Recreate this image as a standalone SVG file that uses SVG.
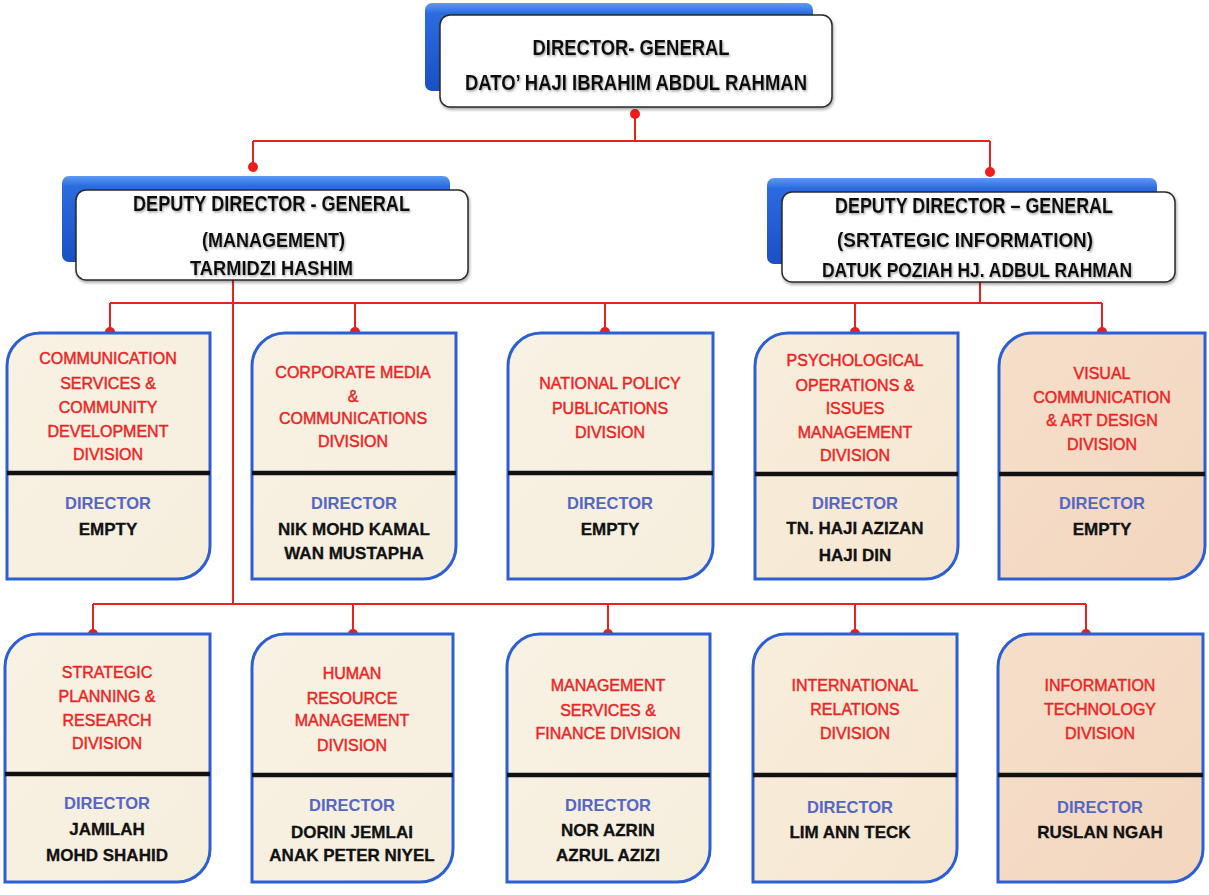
<svg xmlns="http://www.w3.org/2000/svg" width="1209" height="895" viewBox="0 0 1209 895">
<defs>
<linearGradient id="plate" x1="0" y1="0" x2="0" y2="1">
<stop offset="0" stop-color="#5d9af2"/>
<stop offset="0.12" stop-color="#2b6be0"/>
<stop offset="1" stop-color="#1a50c4"/>
</linearGradient>
<linearGradient id="cream" x1="0" y1="0" x2="1" y2="1">
<stop offset="0" stop-color="#f8f2e4"/>
<stop offset="1" stop-color="#f6eedd"/>
</linearGradient>
<linearGradient id="warm" x1="0" y1="0" x2="1" y2="1">
<stop offset="0" stop-color="#f8eedc"/>
<stop offset="1" stop-color="#f6e6d0"/>
</linearGradient>
<linearGradient id="peach" x1="0" y1="0" x2="1" y2="1">
<stop offset="0" stop-color="#f5dfca"/>
<stop offset="1" stop-color="#f3d6bf"/>
</linearGradient>
<filter id="sh" x="-5%" y="-20%" width="110%" height="160%">
<feDropShadow dx="1" dy="1.5" stdDeviation="0.8" flood-color="#555" flood-opacity="0.55"/>
</filter>
<filter id="bsh" x="-5%" y="-10%" width="110%" height="130%">
<feDropShadow dx="1" dy="2" stdDeviation="1.5" flood-color="#000" flood-opacity="0.35"/>
</filter>
</defs>
<style>
.plate{fill:url(#plate);}
.card{fill:#ffffff;stroke:#2a2a2a;stroke-width:1.5;}
.head{font-family:"Liberation Sans",Arial,sans-serif;font-weight:bold;fill:#111;text-anchor:middle;}
.box{stroke:#2c5fd2;stroke-width:3;}
.div{stroke:#111;stroke-width:4.5;}
.red{font-family:"Liberation Sans",Arial,sans-serif;fill:#ec2424;stroke:#ec2424;stroke-width:0.45;text-anchor:middle;font-size:16px;}
.dir{font-family:"Liberation Sans",Arial,sans-serif;font-weight:bold;fill:#5566c4;text-anchor:middle;font-size:16.5px;}
.nm{font-family:"Liberation Sans",Arial,sans-serif;font-weight:bold;fill:#111;stroke:#111;stroke-width:0.3;text-anchor:middle;font-size:17px;}
.con{stroke:#e8221e;stroke-width:2;fill:none;}
.dot{fill:#ee1c1c;}
</style>
<rect width="1209" height="895" fill="#ffffff"/>

<g id="connectors">
<path class="con" d="M635 114 V141 M253 141 H990 M253 141 V167 M990 141 V172"/>
<path class="con" d="M233 280 V604 M980 282 V303 M110 303 H1102 M110 303 V332 M355 303 V332 M605 303 V332 M855 303 V332 M1102 303 V332"/>
<path class="con" d="M93 604 H1086 M93 604 V634 M353 604 V634 M608 604 V634 M855 604 V634 M1086 604 V634"/>
<circle class="dot" cx="635" cy="114" r="5"/>
<circle class="dot" cx="253" cy="167" r="5"/>
<circle class="dot" cx="990" cy="172" r="5"/>
<circle class="dot" cx="110" cy="332" r="5"/>
<circle class="dot" cx="355" cy="332" r="5"/>
<circle class="dot" cx="605" cy="332" r="5"/>
<circle class="dot" cx="855" cy="332" r="5"/>
<circle class="dot" cx="1102" cy="332" r="5"/>
<circle class="dot" cx="93" cy="634" r="5"/>
<circle class="dot" cx="353" cy="634" r="5"/>
<circle class="dot" cx="608" cy="634" r="5"/>
<circle class="dot" cx="855" cy="634" r="5"/>
<circle class="dot" cx="1086" cy="634" r="5"/>
</g>

<g id="director-general">
<rect class="plate" x="425" y="3" width="388" height="88" rx="7"/>
<rect class="card" x="440" y="15" width="392" height="92" rx="10" filter="url(#bsh)"/>
<text class="head" x="631" y="55" font-size="21.5" textLength="197" lengthAdjust="spacingAndGlyphs" filter="url(#sh)">DIRECTOR- GENERAL</text>
<text class="head" x="636" y="90" font-size="21.5" textLength="342" lengthAdjust="spacingAndGlyphs" filter="url(#sh)">DATO’ HAJI IBRAHIM ABDUL RAHMAN</text>
</g>

<g id="ddg-management">
<rect class="plate" x="62" y="176" width="388" height="86" rx="7"/>
<rect class="card" x="76" y="190" width="392" height="90" rx="10" filter="url(#bsh)"/>
<text class="head" x="271.5" y="211" font-size="21.5" textLength="277" lengthAdjust="spacingAndGlyphs" filter="url(#sh)">DEPUTY DIRECTOR - GENERAL</text>
<text class="head" x="273.5" y="247" font-size="20" textLength="143" lengthAdjust="spacingAndGlyphs" filter="url(#sh)">(MANAGEMENT)</text>
<text class="head" x="271.5" y="275" font-size="20" textLength="163" lengthAdjust="spacingAndGlyphs" filter="url(#sh)">TARMIDZI HASHIM</text>
</g>

<g id="ddg-strategic">
<rect class="plate" x="767" y="178" width="390" height="86" rx="7"/>
<rect class="card" x="782" y="192" width="393" height="90" rx="10" filter="url(#bsh)"/>
<text class="head" x="974" y="213" font-size="21.5" textLength="278" lengthAdjust="spacingAndGlyphs" filter="url(#sh)">DEPUTY DIRECTOR – GENERAL</text>
<text class="head" x="965" y="247" font-size="20" textLength="256" lengthAdjust="spacingAndGlyphs" filter="url(#sh)">(SRTATEGIC INFORMATION)</text>
<text class="head" x="977" y="277" font-size="20" textLength="310" lengthAdjust="spacingAndGlyphs" filter="url(#sh)">DATUK POZIAH HJ. ADBUL RAHMAN</text>
</g>

<!-- Row 1 -->
<g id="div-communication-services">
<path class="box" fill="url(#cream)" d="M40 333 H210 V546 A33 33 0 0 1 177 579 H7 V366 A33 33 0 0 1 40 333 Z"/>
<line class="div" x1="7" y1="473" x2="210" y2="473"/>
<text class="red" x="108" y="364" font-size="16.5">COMMUNICATION</text>
<text class="red" x="108" y="389" font-size="16.5">SERVICES &amp;</text>
<text class="red" x="108" y="413" font-size="16.5">COMMUNITY</text>
<text class="red" x="108" y="437" font-size="16.5">DEVELOPMENT</text>
<text class="red" x="108" y="460" font-size="16.5">DIVISION</text>
<text class="dir" x="108" y="509">DIRECTOR</text>
<text class="nm" x="108" y="535">EMPTY</text>
</g>

<g id="div-corporate-media">
<path class="box" fill="url(#cream)" d="M285 333 H456 V546 A33 33 0 0 1 423 579 H252 V366 A33 33 0 0 1 285 333 Z"/>
<line class="div" x1="252" y1="473" x2="456" y2="473"/>
<text class="red" x="353" y="378" font-size="14.5">CORPORATE MEDIA</text>
<text class="red" x="353" y="402" font-size="14.5">&amp;</text>
<text class="red" x="353" y="424" font-size="14.5">COMMUNICATIONS</text>
<text class="red" x="353" y="447" font-size="14.5">DIVISION</text>
<text class="dir" x="354" y="509">DIRECTOR</text>
<text class="nm" x="354" y="535">NIK MOHD KAMAL</text>
<text class="nm" x="354" y="559">WAN MUSTAPHA</text>
</g>

<g id="div-national-policy">
<path class="box" fill="url(#cream)" d="M541 333 H713 V546 A33 33 0 0 1 680 579 H508 V366 A33 33 0 0 1 541 333 Z"/>
<line class="div" x1="508" y1="473" x2="713" y2="473"/>
<text class="red" x="610" y="389" font-size="15">NATIONAL POLICY</text>
<text class="red" x="610" y="414" font-size="15">PUBLICATIONS</text>
<text class="red" x="610" y="438" font-size="15">DIVISION</text>
<text class="dir" x="610" y="509">DIRECTOR</text>
<text class="nm" x="610" y="535">EMPTY</text>
</g>

<g id="div-psychological">
<path class="box" fill="url(#warm)" d="M788 333 H958 V546 A33 33 0 0 1 925 579 H755 V366 A33 33 0 0 1 788 333 Z"/>
<line class="div" x1="755" y1="474" x2="958" y2="474"/>
<text class="red" x="855" y="366" font-size="15.5">PSYCHOLOGICAL</text>
<text class="red" x="855" y="391" font-size="15.5">OPERATIONS &amp;</text>
<text class="red" x="855" y="414" font-size="15.5">ISSUES</text>
<text class="red" x="855" y="438" font-size="15.5">MANAGEMENT</text>
<text class="red" x="855" y="461" font-size="15.5">DIVISION</text>
<text class="dir" x="855" y="509">DIRECTOR</text>
<text class="nm" x="855" y="534">TN. HAJI AZIZAN</text>
<text class="nm" x="855" y="561">HAJI DIN</text>
</g>

<g id="div-visual-communication">
<path class="box" fill="url(#peach)" d="M1032 333 H1205 V546 A33 33 0 0 1 1172 579 H999 V366 A33 33 0 0 1 1032 333 Z"/>
<line class="div" x1="999" y1="474" x2="1205" y2="474"/>
<text class="red" x="1102" y="379" font-size="16.5">VISUAL</text>
<text class="red" x="1102" y="403" font-size="16.5">COMMUNICATION</text>
<text class="red" x="1102" y="426" font-size="16.5">&amp; ART DESIGN</text>
<text class="red" x="1102" y="450" font-size="16.5">DIVISION</text>
<text class="dir" x="1102" y="509">DIRECTOR</text>
<text class="nm" x="1102" y="535">EMPTY</text>
</g>

<!-- Row 2 -->
<g id="div-strategic-planning">
<path class="box" fill="url(#cream)" d="M38 634 H210 V849 A33 33 0 0 1 177 882 H5 V667 A33 33 0 0 1 38 634 Z"/>
<line class="div" x1="5" y1="774" x2="210" y2="774"/>
<text class="red" x="107" y="678">STRATEGIC</text>
<text class="red" x="107" y="702">PLANNING &amp;</text>
<text class="red" x="107" y="726">RESEARCH</text>
<text class="red" x="107" y="749">DIVISION</text>
<text class="dir" x="107" y="809">DIRECTOR</text>
<text class="nm" x="107" y="835">JAMILAH</text>
<text class="nm" x="107" y="861">MOHD SHAHID</text>
</g>

<g id="div-human-resource">
<path class="box" fill="url(#cream)" d="M285 634 H453 V849 A33 33 0 0 1 420 882 H252 V667 A33 33 0 0 1 285 634 Z"/>
<line class="div" x1="252" y1="775" x2="453" y2="775"/>
<text class="red" x="352" y="679">HUMAN</text>
<text class="red" x="352" y="704">RESOURCE</text>
<text class="red" x="352" y="726">MANAGEMENT</text>
<text class="red" x="352" y="751">DIVISION</text>
<text class="dir" x="352" y="811">DIRECTOR</text>
<text class="nm" x="352" y="838" font-size="16.5">DORIN JEMLAI</text>
<text class="nm" x="352" y="861" font-size="16.5">ANAK PETER  NIYEL</text>
</g>

<g id="div-management-services">
<path class="box" fill="url(#cream)" d="M540 634 H710 V849 A33 33 0 0 1 677 882 H507 V667 A33 33 0 0 1 540 634 Z"/>
<line class="div" x1="507" y1="775" x2="710" y2="775"/>
<text class="red" x="608" y="691">MANAGEMENT</text>
<text class="red" x="608" y="716">SERVICES &amp;</text>
<text class="red" x="608" y="739">FINANCE DIVISION</text>
<text class="dir" x="608" y="811">DIRECTOR</text>
<text class="nm" x="608" y="836">NOR AZRIN</text>
<text class="nm" x="608" y="861">AZRUL AZIZI</text>
</g>

<g id="div-international-relations">
<path class="box" fill="url(#warm)" d="M786 634 H957 V849 A33 33 0 0 1 924 882 H753 V667 A33 33 0 0 1 786 634 Z"/>
<line class="div" x1="753" y1="775" x2="957" y2="775"/>
<text class="red" x="855" y="691">INTERNATIONAL</text>
<text class="red" x="855" y="715">RELATIONS</text>
<text class="red" x="855" y="739">DIVISION</text>
<text class="dir" x="850" y="813">DIRECTOR</text>
<text class="nm" x="850" y="838">LIM ANN TECK</text>
</g>

<g id="div-information-technology">
<path class="box" fill="url(#peach)" d="M1031 634 H1203 V849 A33 33 0 0 1 1170 882 H998 V667 A33 33 0 0 1 1031 634 Z"/>
<line class="div" x1="998" y1="775" x2="1203" y2="775"/>
<text class="red" x="1100" y="691">INFORMATION</text>
<text class="red" x="1100" y="715">TECHNOLOGY</text>
<text class="red" x="1100" y="739">DIVISION</text>
<text class="dir" x="1100" y="813">DIRECTOR</text>
<text class="nm" x="1100" y="838">RUSLAN NGAH</text>
</g>
</svg>
